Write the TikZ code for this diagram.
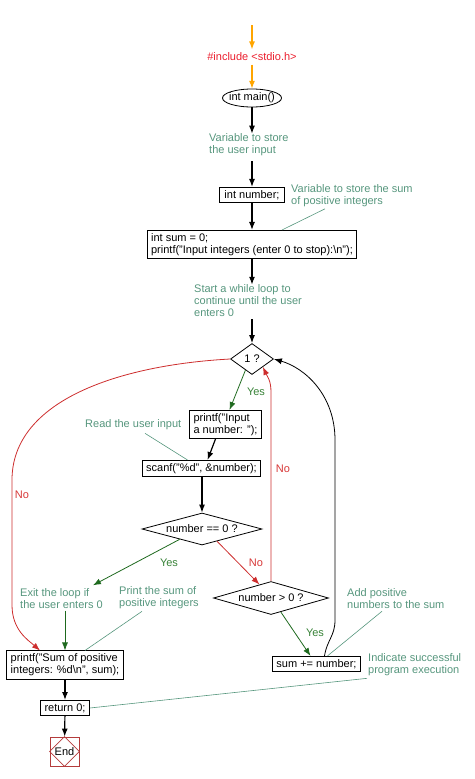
\documentclass[tikz,border=0pt]{standalone}
\usepackage{fontspec}
\setmainfont{Liberation Sans}
\usetikzlibrary{arrows.meta,shapes.geometric,calc}

\definecolor{notegreen}{RGB}{86,150,125}
\definecolor{yestext}{RGB}{55,130,55}
\definecolor{yesdark}{RGB}{30,105,30}
\definecolor{nored}{RGB}{205,45,45}
\definecolor{notext}{RGB}{215,55,55}
\definecolor{endred}{RGB}{180,60,60}
\definecolor{incred}{RGB}{235,30,45}
\definecolor{incorange}{RGB}{255,165,0}

\begin{document}
\begin{tikzpicture}[x=1pt, y=-1pt, >={Latex[length=8pt,width=6pt]}, font=\fontsize{11}{12}\selectfont]
\tikzstyle{block}=[rectangle, draw=black, line width=0.8pt, inner xsep=4pt, inner ysep=3pt, align=left]
\tikzstyle{cond}=[diamond, draw=black, line width=0.8pt, inner sep=0pt]
\tikzstyle{note}=[anchor=west, inner sep=0pt, align=left, text=notegreen]
\tikzstyle{flow}=[->, line width=1.2pt]
\tikzstyle{yesline}=[->, line width=0.8pt, color=yesdark]
\tikzstyle{noline}=[->, line width=0.8pt, color=nored]
\tikzstyle{lead}=[line width=0.6pt, draw=notegreen]
\tikzstyle{yeslab}=[inner sep=0pt, text=yestext]
\tikzstyle{nolab}=[inner sep=0pt, text=notext]

\useasboundingbox (0, 0) rectangle (474, 779);

% Header
\coordinate (start) at (252, 25);
\node at (252, 57) [text=incred] (inc) {\#include <stdio.h>};
\node at (252, 98) [minimum width=59pt, minimum height=18pt, inner sep=0pt] (main) {int main()};
\draw [line width=0.8pt] (main.center) ellipse (29.5 and 9);
\draw [->, line width=1.2pt, color=incorange] (start) -- (inc);
\draw [->, line width=1.2pt, color=incorange] (inc) -- (main);

% Declarations
\node at (209, 145) [note] (c1) {Variable to store\\the user input};
\node at (252, 195) [block, inner xsep=5pt] (num) {int number;};
\node at (291, 195.5) [note] (c2) {Variable to store the sum\\of positive integers};
\node at (252, 244.5) [block] (sumbox) {int sum = 0;\\printf("Input integers (enter 0 to stop):\textbackslash n");};
\node at (194, 301) [note] (c3) {Start a while loop to\\continue until the user\\enters 0};

% Loop
\node at (252, 359) [cond, minimum width=43pt, minimum height=31pt, aspect=1.4] (d1) {1 ?};
\node at (225.5, 424.5) [block] (p1) {printf("Input\\a number: ");};
\node at (85, 425) [note] (c4) {Read the user input};
\node at (201.5, 468.5) [block] (scan) {scanf("\%d", \&number);};
\node at (202, 529) [cond, minimum width=120pt, minimum height=32pt, aspect=3.75] (d2) {number == 0 ?};
\node at (271, 598) [cond, minimum width=115pt, minimum height=33pt, aspect=3.5] (d3) {number > 0 ?};
\node at (316.5, 664) [block] (add) {sum += number;};
\node at (347, 599) [note] (c7) {Add positive\\numbers to the sum};

% Exit
\node at (20, 598.5) [note] (c5) {Exit the loop if\\the user enters 0};
\node at (119, 598) [note] (c6) {Print the sum of\\positive integers};
\node at (65, 665) [block] (psum) {printf("Sum of positive\\integers: \%d\textbackslash n", sum);};
\node at (65, 708) [block] (ret) {return 0;};
\node at (368, 665) [note] (c8) {Indicate successful\\program execution};
\node at (64.5, 751.5) [rectangle, draw=endred, line width=0.8pt, minimum size=29pt, inner sep=0pt] (fin) {End};
\draw [endred, line width=0.8pt] (fin.north) -- (fin.east) -- (fin.south) -- (fin.west) -- cycle;

% Labels
\node at (256, 392) [yeslab] (y1) {Yes};
\node at (283, 469) [nolab] (n1) {No};
\node at (22, 495) [nolab] (n2) {No};
\node at (169, 563) [yeslab] (y2) {Yes};
\node at (256, 563) [nolab] (n3) {No};
\node at (315, 633) [yeslab] (y3) {Yes};

% Main flow
\draw [flow] (main) -- (main |- c1.north);
\draw [flow] ($(num |- c1.south)+(0, 5)$) -- (num);
\draw [flow] (num) -- (sumbox);
\draw [flow] (sumbox) -- (sumbox |- c3.north);
\draw [flow] ($(d1 |- c3.south)+(0, 2)$) -- (d1);
\draw [flow] ([xshift=-10pt]p1.south) -- ([xshift=6pt]scan.north);
\draw [flow] (scan.south -| d2) -- (d2);
\foreach \a/\b in {psum/ret, ret/fin}
\draw [flow] (\a) -- (\b);

% Yes / No branches
\draw [yesline] ($(d1.south)!0.3!(d1.west)$) -- ([xshift=4pt]p1.north);
\draw [yesline] ($(d2.south)!0.37!(d2.west)$) -- ($(c5.north east)+(-10, -3)$);
\draw [noline] ($(d2.south)!0.25!(d2.east)$) -- ($(d3.north)!0.2!(d3.west)$);
\draw [yesline] ($(d3.south)!0.17!(d3.east)$) -- ([xshift=-6pt]add.north);
\draw [yesline] ($(psum.north |- c5.south)+(0, 2)$) -- (psum.north);

% Back to the loop
\draw [noline] (d3.north) -- (271, 392) .. controls (271, 380) and (267, 376) .. ($(d1.south)!0.5!(d1.east)$);
\draw [flow, line width=0.8pt] ([xshift=8pt]add.north) .. controls (327, 640) and (335, 636) .. (335, 620) -- (335, 440) .. controls (335, 395) and (305, 368) .. (d1.east);
\draw [noline] (d1.west) .. controls (120, 365) and (12, 400) .. (12, 480) -- (12, 605) .. controls (12, 630) and (28, 640) .. ([xshift=-25pt]psum.north);

% Leaders
\draw [lead] ($(c2.south west)+(34, 2)$) -- ([xshift=30pt]sumbox.north);
\draw [lead] ($(c4.south west)+(60, 3)$) -- ([xshift=-14pt]scan.north);
\draw [lead] ($(c6.south west)+(23, 2)$) -- ([xshift=20pt]psum.north);
\draw [lead] ($(c7.south west)+(35, 2)$) -- ([xshift=11pt]add.north);
\draw [lead] ($(c8.south west)+(-1, 2)$) -- (ret.east);
\end{tikzpicture}
\end{document}
